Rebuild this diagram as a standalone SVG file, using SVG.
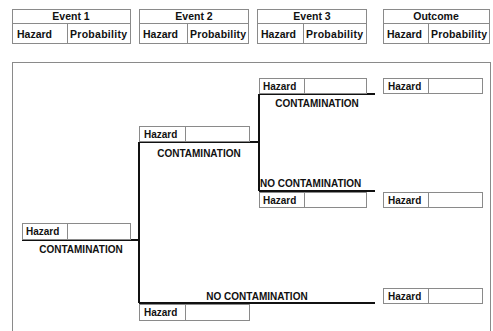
<svg xmlns="http://www.w3.org/2000/svg" width="493" height="331" viewBox="0 0 493 331">
<style>
.box{fill:#fff;stroke:#8a8a8a;stroke-width:1}
.t{font-family:"Liberation Sans",Arial,sans-serif;font-weight:bold;font-size:10.5px;fill:#111}
.s{font-family:"Liberation Sans",Arial,sans-serif;font-weight:bold;font-size:10px;fill:#111}
.c{text-anchor:middle}
.ln{fill:none;stroke:#111;stroke-width:2}
.frame{fill:none;stroke:#8a8a8a;stroke-width:1}
</style>
<rect width="493" height="331" fill="#fff"/>
<g id="header-event1">
<rect class="box" x="12.5" y="9.5" width="118" height="34"/>
<line class="box" x1="12.5" y1="23.5" x2="130.5" y2="23.5"/>
<line class="box" x1="67.5" y1="23.5" x2="67.5" y2="43.5"/>
<text class="t c" x="71" y="20">Event 1</text>
<text class="t" x="17" y="38">Hazard</text>
<text class="t" x="70" y="38" textLength="57">Probability</text>
</g>
<g id="header-event2">
<rect class="box" x="139.5" y="9.5" width="109" height="34"/>
<line class="box" x1="139.5" y1="23.5" x2="248.5" y2="23.5"/>
<line class="box" x1="187.5" y1="23.5" x2="187.5" y2="43.5"/>
<text class="t c" x="194" y="20">Event 2</text>
<text class="t" x="143" y="38">Hazard</text>
<text class="t" x="190" y="38" textLength="56">Probability</text>
</g>
<g id="header-event3">
<rect class="box" x="257.5" y="9.5" width="109" height="34"/>
<line class="box" x1="257.5" y1="23.5" x2="366.5" y2="23.5"/>
<line class="box" x1="303.5" y1="23.5" x2="303.5" y2="43.5"/>
<text class="t c" x="312" y="20">Event 3</text>
<text class="t" x="261" y="38">Hazard</text>
<text class="t" x="306" y="38" textLength="57">Probability</text>
</g>
<g id="header-outcome">
<rect class="box" x="383.5" y="9.5" width="106" height="34"/>
<line class="box" x1="383.5" y1="23.5" x2="489.5" y2="23.5"/>
<line class="box" x1="428.5" y1="23.5" x2="428.5" y2="43.5"/>
<text class="t c" x="436" y="20">Outcome</text>
<text class="t" x="387" y="38">Hazard</text>
<text class="t" x="431" y="38" textLength="56">Probability</text>
</g>
<rect class="frame" x="12.5" y="62.5" width="478" height="280"/>
<g id="connectors">
<polyline class="ln" points="22,240 139,240"/>
<polyline class="ln" points="139,142 139,303"/>
<polyline class="ln" points="139,142 259,142"/>
<polyline class="ln" points="139,303 375,303"/>
<polyline class="ln" points="259,94 259,191"/>
<polyline class="ln" points="259,94 375,94"/>
<polyline class="ln" points="259,191 375,191"/>
</g>
<g id="node-event1">
<rect class="box" x="22.5" y="223.5" width="108" height="16"/>
<line class="box" x1="67.5" y1="223.5" x2="67.5" y2="239.5"/>
<text class="s" x="26" y="235">Hazard</text>
<text class="s c" x="81" y="253">CONTAMINATION</text>
</g>
<g id="node-event2-contamination">
<rect class="box" x="139.5" y="126.5" width="110" height="15"/>
<line class="box" x1="185.5" y1="126.5" x2="185.5" y2="141.5"/>
<text class="s" x="144" y="138">Hazard</text>
<text class="s c" x="199" y="157">CONTAMINATION</text>
</g>
<g id="node-event2-no-contamination">
<rect class="box" x="139.5" y="304.5" width="110" height="16"/>
<line class="box" x1="185.5" y1="304.5" x2="185.5" y2="320.5"/>
<text class="s" x="144" y="316">Hazard</text>
<text class="s c" x="257" y="300">NO CONTAMINATION</text>
</g>
<g id="node-event3-contamination">
<rect class="box" x="259.5" y="78.5" width="107" height="15"/>
<line class="box" x1="304.5" y1="78.5" x2="304.5" y2="93.5"/>
<text class="s" x="263" y="90">Hazard</text>
<text class="s c" x="317" y="107">CONTAMINATION</text>
</g>
<g id="node-event3-no-contamination">
<rect class="box" x="259.5" y="192.5" width="107" height="15"/>
<line class="box" x1="304.5" y1="192.5" x2="304.5" y2="207.5"/>
<text class="s" x="263" y="204">Hazard</text>
<text class="s" x="260" y="187">NO CONTAMINATION</text>
</g>
<g id="outcome-1">
<rect class="box" x="383.5" y="78.5" width="99" height="15"/>
<line class="box" x1="428.5" y1="78.5" x2="428.5" y2="93.5"/>
<text class="s" x="388" y="90">Hazard</text>
</g>
<g id="outcome-2">
<rect class="box" x="383.5" y="192.5" width="99" height="15"/>
<line class="box" x1="428.5" y1="192.5" x2="428.5" y2="207.5"/>
<text class="s" x="388" y="204">Hazard</text>
</g>
<g id="outcome-3">
<rect class="box" x="383.5" y="288.5" width="99" height="15"/>
<line class="box" x1="428.5" y1="288.5" x2="428.5" y2="303.5"/>
<text class="s" x="388" y="300">Hazard</text>
</g>
</svg>
